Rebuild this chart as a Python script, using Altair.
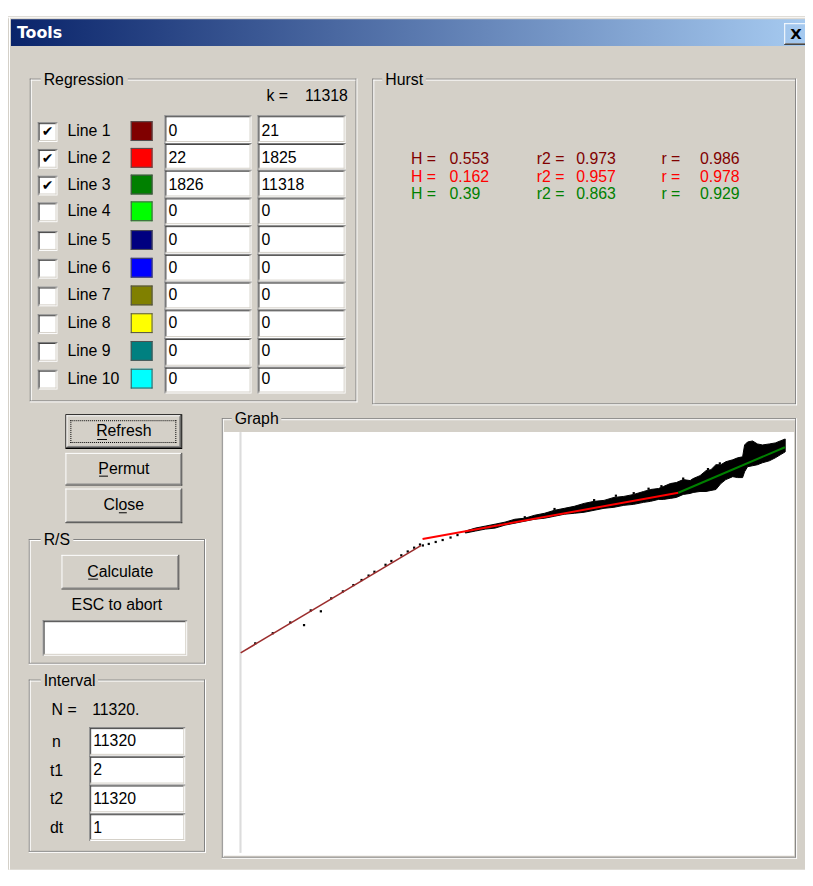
import altair as alt
import pandas as pd

# ---------------- values shown in the dialog ----------------
line_names = ["Line 1", "Line 2", "Line 3", "Line 4", "Line 5",
              "Line 6", "Line 7", "Line 8", "Line 9", "Line 10"]
line_colors = ["#800000", "#FF0000", "#008000", "#00FF00", "#000080",
               "#0000FF", "#808000", "#FFFF00", "#008080", "#00FFFF"]
line_checked = [True, True, True, False, False, False, False, False, False, False]
line_start = ["0", "22", "1826", "0", "0", "0", "0", "0", "0", "0"]
line_end = ["21", "1825", "11318", "0", "0", "0", "0", "0", "0", "0"]
k_value = "11318"

hurst_colors = ["#800000", "#FF0000", "#008000"]
hurst_H = ["0.553", "0.162", "0.39"]
hurst_r2 = ["0.973", "0.957", "0.863"]
hurst_r = ["0.986", "0.978", "0.929"]

N_value = "11320."
interval_names = ["n", "t1", "t2", "dt"]
interval_values = ["11320", "2", "11320", "1"]

# ---------------- graph: ln(n) vs ln(R/S) ----------------
reg_x1 = [0.000, 3.114, 7.492]
reg_y1 = [0.000, 1.797, 2.527]
reg_x2 = [3.085, 7.492, 9.317]
reg_y2 = [1.692, 2.527, 3.245]
reg_color = ["#9B2D2D", "#FF0000", "#008000"]
reg_width = [1.6, 2.0, 2.0]

dot_x = [0.25, 0.55, 0.85, 1.085, 1.20, 1.373, 1.55, 1.75, 1.93, 2.07, 2.19, 2.29,
         2.48, 2.58, 2.75, 2.86, 2.97, 3.07, 3.119, 3.220, 3.339, 3.458, 3.593, 3.712,
         4.864, 5.373, 6.051, 6.424, 6.729, 6.983, 7.203, 7.576, 8.000, 8.203]
dot_y = [0.15, 0.31, 0.48, 0.438, 0.67, 0.656, 0.86, 0.97, 1.07, 1.15, 1.22, 1.28,
         1.39, 1.45, 1.54, 1.60, 1.66, 1.71, 1.695, 1.719, 1.750, 1.781, 1.820, 1.859,
         2.14, 2.27, 2.41, 2.48, 2.52, 2.59, 2.63, 2.75, 2.90, 2.99]

cloud_x = [3.847, 4.017, 4.186, 4.356, 4.525, 4.695, 4.864, 5.034, 5.203, 5.373,
           5.542, 5.712, 5.881, 6.051, 6.220, 6.390, 6.559, 6.729, 6.898, 7.017,
           7.153, 7.237, 7.356, 7.458, 7.576, 7.695, 7.746, 7.864, 7.966, 8.051,
           8.136, 8.220, 8.305, 8.424, 8.508, 8.593, 8.627, 8.678, 8.763, 8.847,
           8.932, 9.051, 9.153, 9.237, 9.322]
cloud_top = [1.922, 1.969, 2.000, 2.031, 2.063, 2.109, 2.125, 2.172, 2.203, 2.250,
             2.281, 2.313, 2.359, 2.391, 2.406, 2.453, 2.469, 2.500, 2.547, 2.578,
             2.594, 2.625, 2.672, 2.688, 2.734, 2.719, 2.750, 2.797, 2.875, 2.891,
             2.969, 2.969, 3.016, 3.047, 3.078, 3.094, 3.281, 3.328, 3.344, 3.297,
             3.281, 3.297, 3.313, 3.344, 3.375]
cloud_bottom = [1.891, 1.922, 1.953, 1.969, 2.016, 2.047, 2.078, 2.109, 2.125, 2.156,
                2.188, 2.203, 2.219, 2.250, 2.281, 2.297, 2.328, 2.344, 2.375, 2.391,
                2.422, 2.422, 2.438, 2.453, 2.500, 2.516, 2.531, 2.547, 2.547, 2.563,
                2.578, 2.672, 2.734, 2.781, 2.766, 2.766, 2.859, 2.938, 2.953, 2.969,
                3.000, 3.031, 3.078, 3.125, 3.172]

# ---------------- styling / layout ----------------
FACE = "#D4D0C8"
SHADOW = "#808080"
DARK = "#404040"
WHITE = "#FFFFFF"
BLACK = "#000000"
FONT = "Liberation Sans"

XS = alt.Scale(domain=[8, 813], range=[0, 805], nice=False, zero=False)
YS = alt.Scale(domain=[8, 874], range=[0, 866], nice=False, zero=False)
GX = alt.Scale(domain=[0, 9.317], range=[235, 784.7], nice=False, zero=False)
GY = alt.Scale(domain=[0, 3.245], range=[647, 439.3], nice=False, zero=False)

rects, segs, dashes = [], [], []
tl, tc, tbold, tsym = [], [], [], []


def box(x1, y1, x2, y2, fill):
    rects.append(dict(x=x1, x2=x2, y=y1, y2=y2, f=fill))


def hline(row, a, b, c, target=None):
    (segs if target is None else target).append(dict(x=a, x2=b, y=row + 0.5, y2=row + 0.5, c=c))


def vline(col, a, b, c, target=None):
    (segs if target is None else target).append(dict(x=col + 0.5, x2=col + 0.5, y=a, y2=b, c=c))


def sunken(x1, y1, x2, y2):
    box(x1, y1, x2, y2, WHITE)
    hline(y1, x1, x2, SHADOW)
    vline(x1, y1, y2, SHADOW)
    hline(y1 + 1, x1 + 1, x2 - 1, DARK)
    vline(x1 + 1, y1 + 1, y2 - 1, DARK)
    hline(y2 - 2, x1 + 1, x2 - 1, FACE)
    vline(x2 - 2, y1 + 1, y2 - 1, FACE)


def raised(x1, y1, x2, y2, default=False):
    if default:
        box(x1, y1, x2, y2, BLACK)
        x1 += 1; y1 += 1; x2 -= 1; y2 -= 1
    box(x1, y1, x2, y2, FACE)
    hline(y1, x1, x2 - 1, WHITE)
    vline(x1, y1, y2 - 1, WHITE)
    hline(y2 - 1, x1, x2, DARK)
    vline(x2 - 1, y1, y2, DARK)
    hline(y2 - 2, x1 + 1, x2 - 1, SHADOW)
    vline(x2 - 2, y1 + 1, y2 - 1, SHADOW)


def groupbox(x1, y1, x2, y2, title, tx, tw):
    hline(y1, x1, tx - 3, SHADOW)
    hline(y1, tx + tw + 3, x2 - 1, SHADOW)
    vline(x1, y1, y2 - 1, SHADOW)
    hline(y2 - 2, x1, x2 - 1, SHADOW)
    vline(x2 - 2, y1, y2 - 1, SHADOW)
    hline(y1 + 1, x1 + 1, tx - 3, WHITE)
    hline(y1 + 1, tx + tw + 3, x2 - 2, WHITE)
    vline(x1 + 1, y1 + 1, y2 - 2, WHITE)
    hline(y2 - 1, x1, x2, WHITE)
    vline(x2 - 1, y1, y2, WHITE)
    tl.append(dict(x=tx, y=y1 + 1, t=title, c=BLACK, s=16))


def tleft(x, y, t, c=BLACK, s=16):
    tl.append(dict(x=x, y=y, t=t, c=c, s=s))


def tcenter(x, y, t, c=BLACK, s=16):
    tc.append(dict(x=x, y=y, t=t, c=c, s=s))


# dialog body
box(8, 12, 813, 874, FACE)
hline(13, 8, 813, WHITE)
vline(9, 13, 874, WHITE)
# close button
raised(792, 19, 816, 41)
tbold.append(dict(x=798, y=30, t="X", c=BLACK, s=15))
tbold.append(dict(x=17, y=29, t="Tools", c=WHITE, s=16))

# Regression
groupbox(30, 75, 361, 402, "Regression", 44, 82)
tleft(269, 93, "k =")
tleft(308, 93, k_value)
row_center = [128, 155, 182, 209, 238, 266, 294, 322, 350, 378]
field_top = [112, 140, 167, 195, 223, 252, 280, 308, 337, 366]
field_bottom = [140, 167, 195, 223, 252, 280, 308, 337, 366, 393]
for i in range(len(line_names)):
    c = row_center[i]
    sunken(38, c - 9, 58, c + 11)
    if line_checked[i]:
        tsym.append(dict(x=48, y=c + 1, t="\u2714", c=BLACK, s=14))
    tleft(68, c, line_names[i])
    box(132, c - 10, 154, c + 10, line_colors[i])
    hline(c - 10, 132, 154, "#505050")
    hline(c + 9, 132, 154, "#505050")
    vline(132, c - 10, c + 10, "#505050")
    vline(153, c - 10, c + 10, "#505050")
    sunken(166, field_top[i], 254, field_bottom[i])
    tleft(170, c, line_start[i])
    sunken(260, field_top[i], 349, field_bottom[i])
    tleft(264, c, line_end[i])

# Hurst
groupbox(376, 75, 805, 405, "Hurst", 389, 38)
hurst_rows = [156, 174, 192]
for j in range(3):
    y = hurst_rows[j]
    col = hurst_colors[j]
    tleft(415, y, "H =", col)
    tleft(454, y, hurst_H[j], col)
    tleft(542, y, "r2 =", col)
    tleft(582, y, hurst_r2[j], col)
    tleft(668, y, "r =", col)
    tleft(707, y, hurst_r[j], col)

# Buttons
raised(66, 414, 184, 449, default=True)
for a, b, r in ((71, 178, 420), (71, 178, 442)):
    hline(r, a, b, BLACK, dashes)
for col in (71, 177):
    vline(col, 420, 443, BLACK, dashes)
raised(66, 453, 184, 486)
raised(66, 489, 184, 524)
tcenter(125, 431, "Refresh")
tcenter(125, 469, "Permut")
tcenter(125, 506, "Close")
hline(439, 98, 108, BLACK)
hline(476, 100, 109, BLACK)
hline(513, 120, 128, BLACK)

# R/S
groupbox(29, 540, 208, 667, "R/S", 44, 27)
raised(62, 556, 181, 591)
tcenter(121.5, 573, "Calculate")
hline(580, 89, 99, BLACK)
tcenter(118, 607, "ESC to abort")
sunken(43, 622, 189, 658)

# Interval
groupbox(29, 682, 208, 857, "Interval", 44, 52)
tleft(52, 713, "N =")
tleft(93, 713, N_value)
itops = [730, 759, 788, 817]
ibots = [759, 788, 817, 845]
for i in range(4):
    tcenter(57, itops[i] + 15, interval_names[i])
    sunken(90, itops[i], 187, ibots[i])
    tleft(94, itops[i] + 14.5, interval_values[i])

# Graph frame
groupbox(224, 418, 805, 863, "Graph", 237, 44)
box(226, 432, 802, 860, WHITE)
vline(242, 432, 857, "#C4C4C4")
vline(243, 432, 857, "#E2E2E2")

# ---------------- build layers ----------------
def enc_pos(ch):
    return ch.encode(
        x=alt.X("x:Q", scale=XS, axis=None),
        x2="x2:Q",
        y=alt.Y("y:Q", scale=YS, axis=None),
        y2="y2:Q",
    )


rect_layer = enc_pos(alt.Chart(pd.DataFrame(rects)).mark_rect()).encode(
    color=alt.Color("f:N", scale=None))

title_layer = enc_pos(alt.Chart(pd.DataFrame([dict(x=11, x2=813, y=15, y2=42)])).mark_rect(
    fill=alt.LinearGradient(
        gradient="linear",
        stops=[alt.GradientStop(color="#0A246A", offset=0),
               alt.GradientStop(color="#A6CAF0", offset=1)],
        x1=0, x2=1, y1=0, y2=0)))

seg_layer = enc_pos(alt.Chart(pd.DataFrame(segs)).mark_rule(strokeWidth=1)).encode(
    color=alt.Color("c:N", scale=None))

dash_layer = enc_pos(alt.Chart(pd.DataFrame(dashes)).mark_rule(
    strokeWidth=1, strokeDash=[1, 1])).encode(color=alt.Color("c:N", scale=None))


def text_layer(rows, align, font, weight="normal"):
    return alt.Chart(pd.DataFrame(rows)).mark_text(
        align=align, baseline="middle", font=font, fontWeight=weight
    ).encode(
        x=alt.X("x:Q", scale=XS, axis=None),
        y=alt.Y("y:Q", scale=YS, axis=None),
        text="t:N",
        color=alt.Color("c:N", scale=None),
        size=alt.Size("s:Q", scale=None),
    )


ui = alt.layer(
    rect_layer, title_layer, seg_layer, dash_layer,
    text_layer(tl, "left", FONT),
    text_layer(tc, "center", FONT),
    text_layer(tbold, "left", "DejaVu Sans", "bold"),
    text_layer(tsym, "center", "DejaVu Sans"),
)

cloud_df = pd.DataFrame({"x": cloud_x, "top": cloud_top, "bottom": cloud_bottom})
dots_df = pd.DataFrame({"x": dot_x, "y": dot_y})
reg_df = pd.DataFrame({"x": reg_x1, "y": reg_y1, "x2": reg_x2, "y2": reg_y2,
                       "c": reg_color, "w": reg_width})

cloud = alt.Chart(cloud_df).mark_area(color=BLACK, stroke=BLACK, strokeWidth=1,
                                      interpolate="linear").encode(
    x=alt.X("x:Q", scale=GX, axis=None),
    y=alt.Y("top:Q", scale=GY, axis=None),
    y2="bottom:Q",
)
dots = alt.Chart(dots_df).mark_square(size=5, color=BLACK, opacity=1).encode(
    x=alt.X("x:Q", scale=GX, axis=None),
    y=alt.Y("y:Q", scale=GY, axis=None),
)
regs = alt.Chart(reg_df).mark_rule().encode(
    x=alt.X("x:Q", scale=GX, axis=None),
    y=alt.Y("y:Q", scale=GY, axis=None),
    x2="x2:Q",
    y2="y2:Q",
    color=alt.Color("c:N", scale=None),
    size=alt.Size("w:Q", scale=None),
)
graph = alt.layer(cloud, dots, regs)

chart = alt.layer(ui, graph).resolve_scale(x="independent", y="independent").properties(
    width=805, height=866,
    autosize=alt.AutoSizeParams(type="none"),
    padding=0,
).configure_view(strokeWidth=0)

chart.save("out.html", embed_options={"renderer": "svg", "actions": False})
